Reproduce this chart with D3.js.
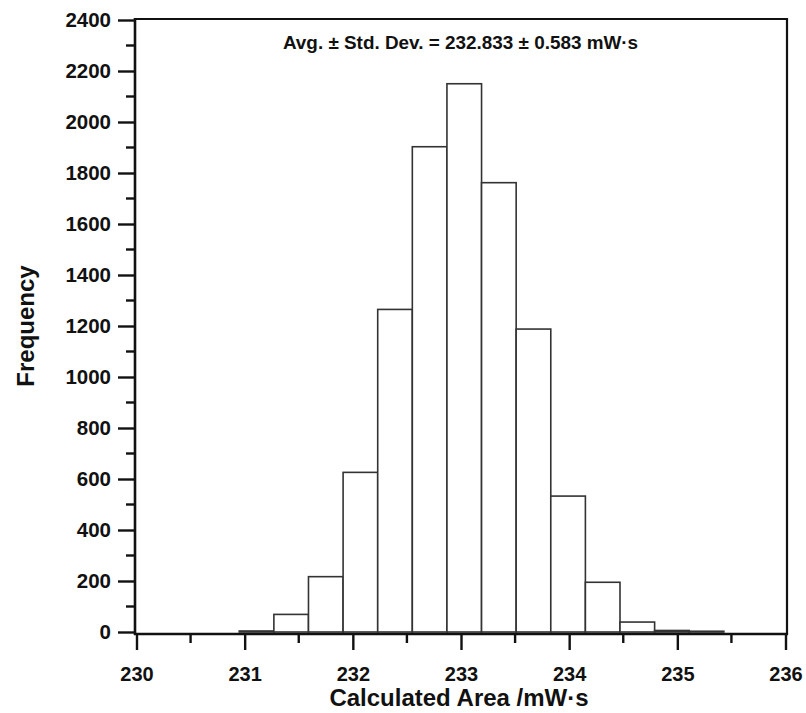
<!DOCTYPE html>
<html>
<head>
<meta charset="utf-8">
<script src="https://cdn.jsdelivr.net/npm/d3@7"></script>
<style>
  html, body { margin: 0; padding: 0; background: #fff; }
  svg text { font-family: "Liberation Sans", Arial, sans-serif; font-weight: bold; fill: #111; }
</style>
</head>
<body>
<svg id="chart" width="806" height="713"></svg>
<script>
// ---- data ----
const binEdges = [230.95, 231.27, 231.59, 231.91, 232.23, 232.55, 232.87, 233.19, 233.51, 233.83, 234.15, 234.47, 234.79, 235.11, 235.43];
const counts = [4, 69, 217, 626, 1265, 1903, 2150, 1762, 1188, 533, 195, 39, 6, 3];
const xMajorTicks = [230, 231, 232, 233, 234, 235, 236];
const xMinorTicks = [230.5, 231.5, 232.5, 233.5, 234.5, 235.5];
const yMajorTicks = [0, 200, 400, 600, 800, 1000, 1200, 1400, 1600, 1800, 2000, 2200, 2400];
const yMinorTicks = [100, 300, 500, 700, 900, 1100, 1300, 1500, 1700, 1900, 2100, 2300];
const xTitle = "Calculated Area /mW\u00B7s";
const yTitle = "Frequency";
const annotation = "Avg. \u00B1 Std. Dev. = 232.833 \u00B1 0.583 mW\u00B7s";

// ---- layout ----
const svg = d3.select("#chart");
const x = d3.scaleLinear().domain([230, 236]).range([136.5, 785.5]);
const y = d3.scaleLinear().domain([0, 2400]).range([632, 20]);
const axisY = 634;   // x-axis line position
const axisX = 135;   // y-axis line position

// bars
const bins = counts.map((c, i) => ({ x0: binEdges[i], x1: binEdges[i + 1], c }));
svg.append("g").selectAll("rect").data(bins).join("rect")
  .attr("x", d => x(d.x0))
  .attr("width", d => x(d.x1) - x(d.x0))
  .attr("y", d => y(d.c))
  .attr("height", d => y(0) - y(d.c))
  .attr("fill", "#fff")
  .attr("stroke", "#333")
  .attr("stroke-width", 1.6);

// frame (top and right)
svg.append("path")
  .attr("d", `M${axisX},${y(2400) - 1}H${x(236) + 1.5}V${axisY}`)
  .attr("fill", "none").attr("stroke", "#111").attr("stroke-width", 2.2);

// x axis
const gx = svg.append("g").attr("transform", `translate(0,${axisY})`);
gx.call(d3.axisBottom(x).tickValues(xMajorTicks).tickSize(16).tickPadding(17).tickFormat(d3.format("d")));
gx.selectAll(".tick text").attr("font-size", 20).attr("font-weight", "bold")
  .attr("font-family", "Liberation Sans, Arial, sans-serif").attr("fill", "#111");
gx.selectAll(".tick line").attr("stroke", "#111").attr("stroke-width", 2.4);
gx.select(".domain").remove();
gx.selectAll(".minor").data(xMinorTicks).join("line")
  .attr("class", "minor")
  .attr("x1", d => x(d)).attr("x2", d => x(d))
  .attr("y1", 0).attr("y2", 9)
  .attr("stroke", "#111").attr("stroke-width", 2.4);
svg.append("line")
  .attr("x1", axisX - 1).attr("x2", x(236) + 2.6)
  .attr("y1", axisY).attr("y2", axisY)
  .attr("stroke", "#111").attr("stroke-width", 2.6);

// y axis
const gy = svg.append("g").attr("transform", `translate(${axisX},0)`);
gy.call(d3.axisLeft(y).tickValues(yMajorTicks).tickSize(17).tickPadding(7).tickFormat(d3.format("d")));
gy.selectAll(".tick text").attr("font-size", 20.5).attr("font-weight", "bold")
  .attr("font-family", "Liberation Sans, Arial, sans-serif").attr("fill", "#111");
gy.selectAll(".tick line").attr("stroke", "#111").attr("stroke-width", 2.4);
gy.select(".domain").remove();
gy.selectAll(".minor").data(yMinorTicks).join("line")
  .attr("class", "minor")
  .attr("x1", -9).attr("x2", 0)
  .attr("y1", d => y(d)).attr("y2", d => y(d))
  .attr("stroke", "#111").attr("stroke-width", 2.4);
svg.append("line")
  .attr("x1", axisX).attr("x2", axisX)
  .attr("y1", y(2400) - 2).attr("y2", axisY + 1)
  .attr("stroke", "#111").attr("stroke-width", 2.6);

// titles
svg.append("text")
  .attr("x", (x(230) + x(236)) / 2 - 2).attr("y", 706)
  .attr("text-anchor", "middle").attr("font-size", 24)
  .text(xTitle);
svg.append("text")
  .attr("transform", `translate(34,${(y(0) + y(2400)) / 2}) rotate(-90)`)
  .attr("text-anchor", "middle").attr("font-size", 24)
  .text(yTitle);

// annotation
svg.append("text")
  .attr("x", 460.5).attr("y", 49)
  .attr("text-anchor", "middle").attr("font-size", 18.9)
  .text(annotation);
</script>
</body>
</html>
